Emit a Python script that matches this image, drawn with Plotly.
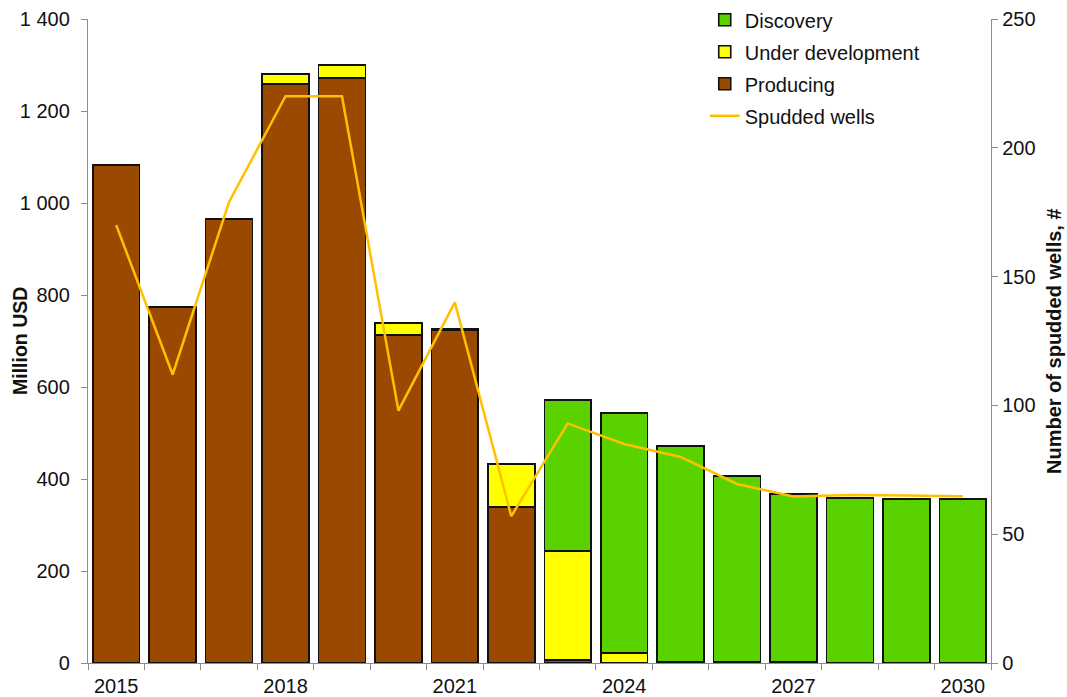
import plotly.graph_objects as go

years = list(range(2015, 2031))
producing = [1083, 774, 965, 1259, 1272, 713, 724, 339, 7, 0, 3, 3, 2, 0, 0, 0]
under_development = [0, 0, 0, 21, 28, 26, 2, 94, 236, 22, 0, 0, 0, 0, 0, 0]
discovery = [0, 0, 0, 0, 0, 0, 0, 0, 329, 521, 469, 404, 365, 359, 357, 357]
spudded_wells = [170, 112, 179, 220, 220, 98, 140, 57, 93, 85, 80, 69.5, 64.6, 65.2, 65, 64.7]

x_labels = [2015, 2018, 2021, 2024, 2027, 2030]

font_family = "Liberation Sans, Arial, sans-serif"
axis_grey = "#8c8c8c"

fig = go.Figure()

bar_style = dict(marker_line_color="#111111", marker_line_width=1.6, width=0.83)
fig.add_trace(go.Bar(x=years, y=producing, name="Producing",
                     marker_color="#9A4A00", legendrank=3, legendgroup="c", **bar_style))
fig.add_trace(go.Bar(x=years, y=under_development, name="Under development",
                     marker_color="#FFFF00", legendrank=2, legendgroup="b", **bar_style))
fig.add_trace(go.Bar(x=years, y=discovery, name="Discovery",
                     marker_color="#5AD200", legendrank=1, legendgroup="a", **bar_style))
fig.add_trace(go.Scatter(x=years, y=spudded_wells, name="Spudded wells", mode="lines",
                         line=dict(color="#FFC000", width=2.5), yaxis="y2",
                         legendrank=4, legendgroup="d"))

fig.update_layout(
    width=1067, height=697,
    barmode="stack",
    plot_bgcolor="white", paper_bgcolor="white",
    separators=", ",
    font=dict(family=font_family, size=20, color="#111111"),
    margin=dict(l=88, r=76, t=19, b=34, autoexpand=False),
    showlegend=True,
    legend=dict(x=0.683, y=1.029, xanchor="left", yanchor="top",
                traceorder="grouped", tracegroupgap=3,
                bgcolor="rgba(0,0,0,0)", font=dict(size=20)),
    xaxis=dict(
        range=[2014.5, 2030.5],
        tickmode="array", tickvals=x_labels, ticktext=[str(v) for v in x_labels],
        ticks="", showline=True, linecolor=axis_grey, linewidth=1.3,
        showgrid=False, zeroline=False,
        tickfont=dict(size=20), ticklabelstandoff=5,
        minor=dict(tickmode="array", tickvals=[y + 0.5 for y in range(2014, 2031)],
                   ticks="outside", ticklen=6, tickcolor=axis_grey, tickwidth=1.3,
                   showgrid=False),
    ),
    yaxis=dict(
        range=[0, 1400], dtick=200, tickformat=",d",
        ticks="outside", ticklen=6, tickcolor=axis_grey, tickwidth=1.3,
        showline=True, linecolor=axis_grey, linewidth=1.3,
        showgrid=False, zeroline=False,
        tickfont=dict(size=20), ticklabelstandoff=7,
    ),
    yaxis2=dict(
        range=[0, 250], dtick=50, overlaying="y", side="right",
        ticks="outside", ticklen=6, tickcolor=axis_grey, tickwidth=1.3,
        showline=True, linecolor=axis_grey, linewidth=1.3,
        showgrid=False, zeroline=False,
        tickfont=dict(size=20),
    ),
    annotations=[
        dict(text="<b>Million USD</b>", textangle=-90, font=dict(size=19.5),
             xref="paper", yref="paper", x=(20 - 88) / 903, y=0.5,
             xanchor="center", yanchor="middle", showarrow=False),
        dict(text="<b>Number of spudded wells, #</b>", textangle=-90, font=dict(size=20),
             xref="paper", yref="paper", x=(1054 - 88) / 903, y=0.5,
             xanchor="center", yanchor="middle", showarrow=False),
    ],
)

fig.write_html("out.html")
